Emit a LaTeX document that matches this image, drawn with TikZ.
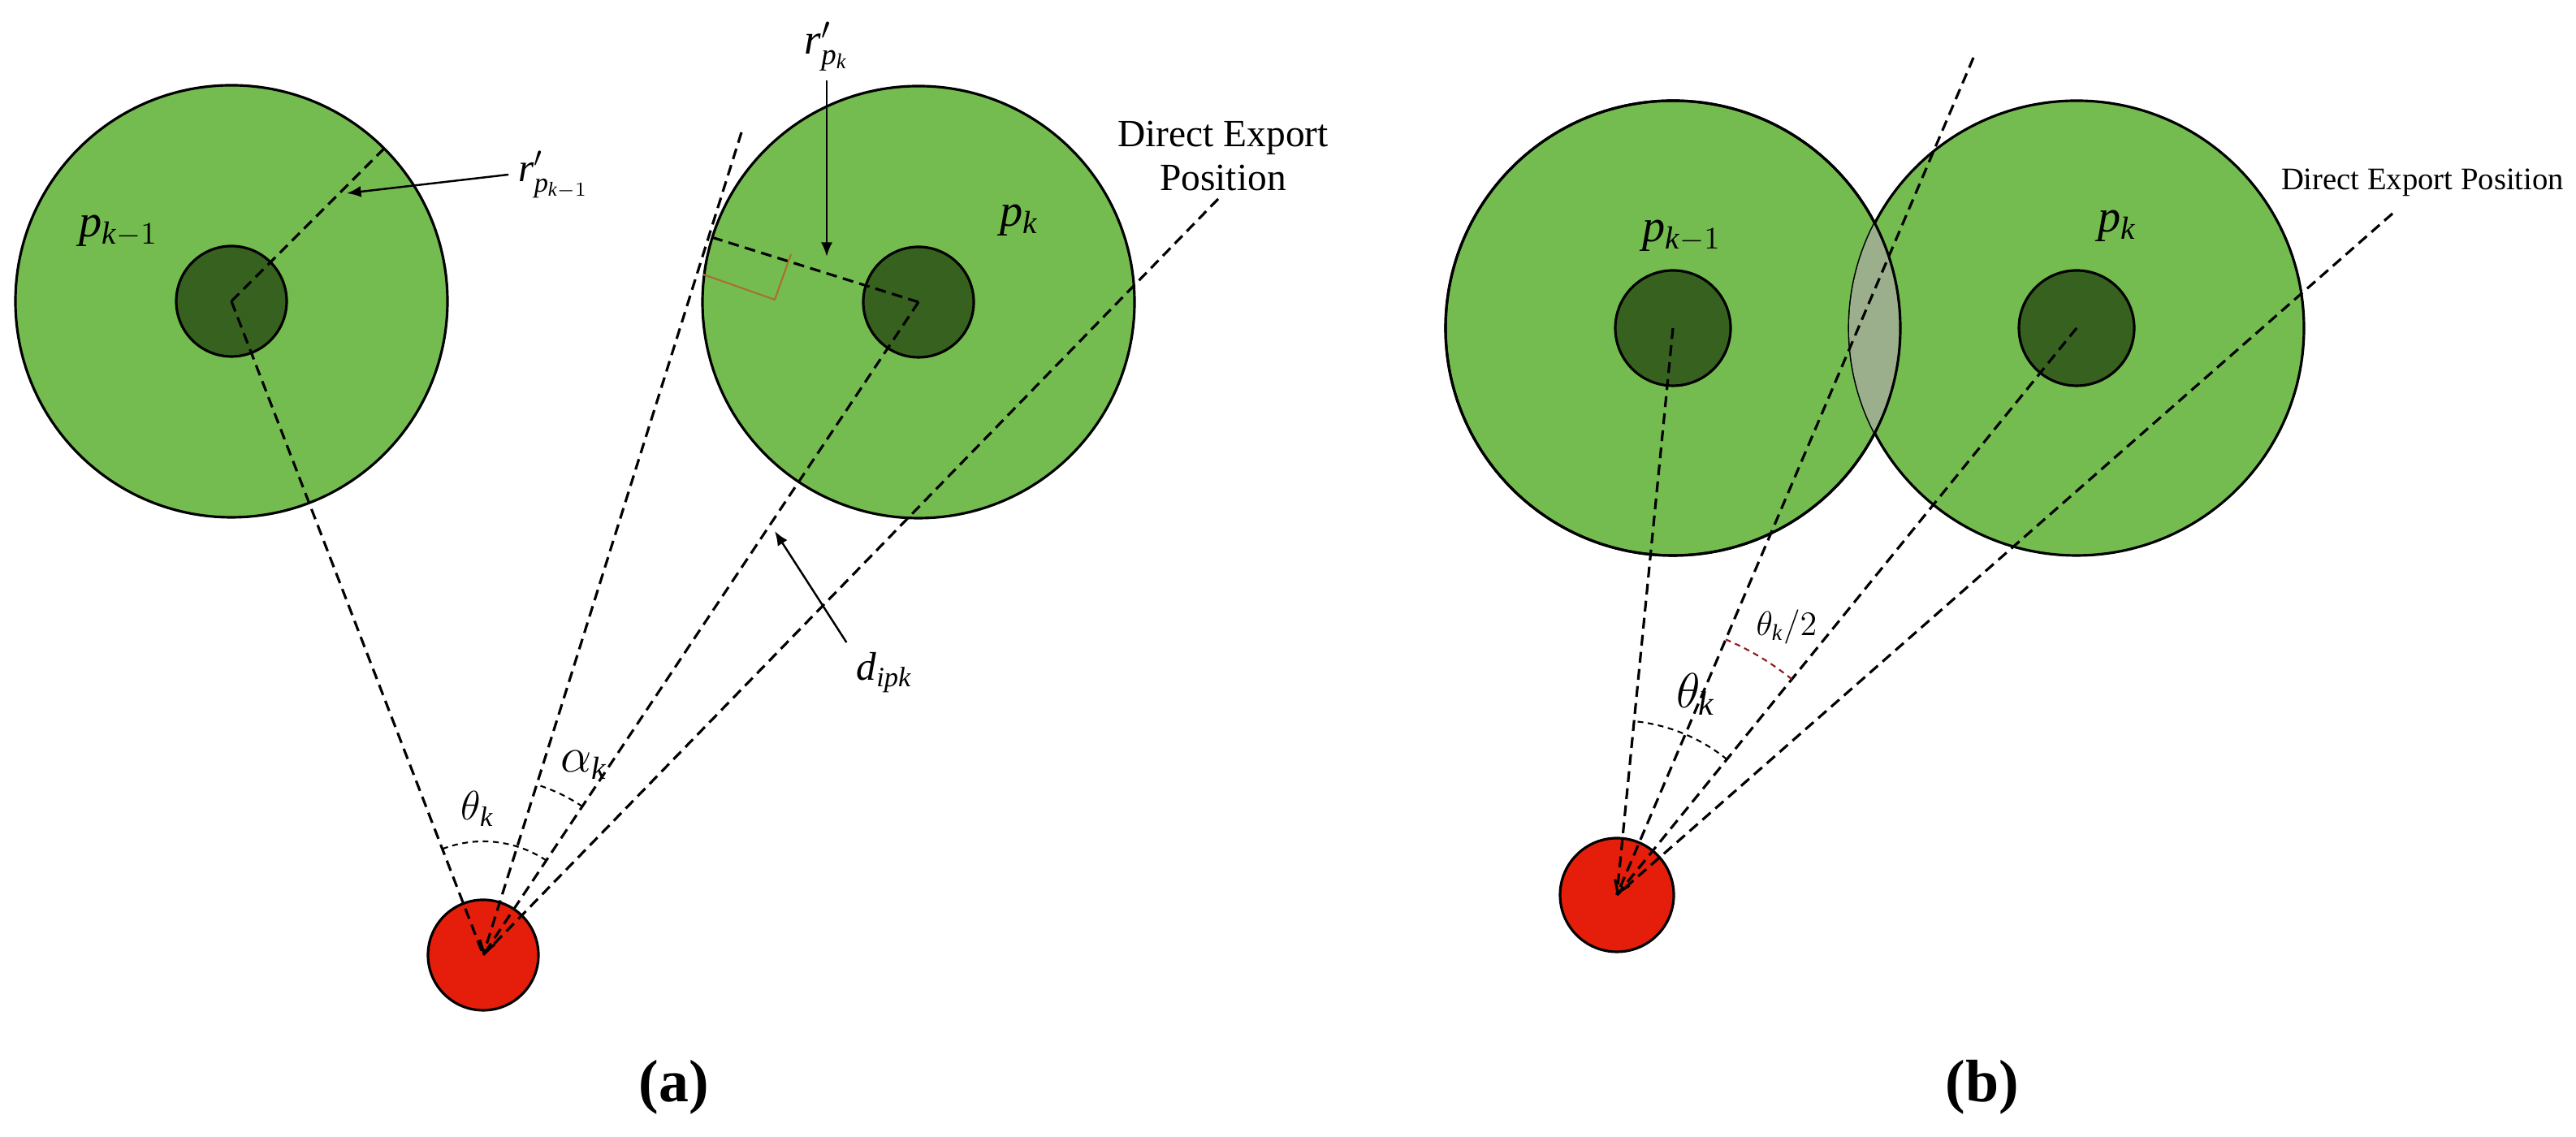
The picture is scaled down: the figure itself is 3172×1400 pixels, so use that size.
\documentclass[tikz,border=0pt]{standalone}
\usepackage{amsmath}
\usepackage{fontspec}
\setmainfont{Liberation Serif}
\usetikzlibrary{arrows.meta,calc}
\definecolor{leaf}{HTML}{74BC50}
\definecolor{darkleaf}{HTML}{37611F}
\definecolor{hot}{HTML}{E41E0A}
\definecolor{lap}{HTML}{9BAF8C}
\definecolor{rightmark}{HTML}{A8702E}
\definecolor{halfarc}{HTML}{8B1A1A}
\newcommand{\ti}[1]{\mathit{#1}}

\begin{document}
\begin{tikzpicture}[x=0.1mm,y=0.1mm,>=Latex,
    disk/.style={circle,draw,line width=0.9pt,fill=leaf,inner sep=0pt},
    kernel/.style={circle,draw,line width=0.9pt,fill=darkleaf,inner sep=0pt,minimum size=13.6mm},
    seed/.style={circle,draw,line width=0.9pt,fill=hot,inner sep=0pt,minimum size=13.6mm},
    ray/.style={line width=0.9pt,dash pattern=on 3.8pt off 2.2pt},
    barb/.style={-{Straight Barb[length=4pt,width=5.5pt]}},
    anglearc/.style={line width=0.6pt,dash pattern=on 2pt off 1.6pt},
    pointer/.style={line width=0.7pt,-{Latex[length=5pt,width=4pt]}},
    tag/.style={font=\fontsize{16}{18}\selectfont},
    sym/.style={font=\fontsize{14}{16}\selectfont},
    caption/.style={font=\fontsize{21}{24}\selectfont\bfseries}]
  \useasboundingbox (0,0) rectangle (3172,1400);

  % (a) separated circles
  \node[disk,minimum size=53.2mm] (pa) at (285,1029) {};
  \node[disk,minimum size=53.2mm] (qa) at (1131,1028) {};
  \node[kernel] (pak) at (pa) {};
  \node[kernel] (qak) at (qa) {};
  \node[seed] (sa) at (595,224) {};
  \node[tag] (lpa) at (146,1116) {$\ti{p}_{\ti{k}-1}$};
  \node[tag] (lqa) at (1255,1129) {$\ti{p}_{\ti{k}}$};
  \node[font=\fontsize{13.5}{15.5}\selectfont,align=center] (expa) at (1506,1208) {Direct Export\\Position};

  \coordinate (ta) at (913,1237);
  \coordinate (ea) at (1500,1155);
  \coordinate (fa) at ($(sa.center)!(qa.center)!(ta)$);
  \coordinate (ra) at ($(pa.center)+(45:266)$);

  \draw[ray] (pa.center) -- (ra);
  \draw[ray] (pa.center) -- (sa.center);
  \draw[ray,barb] (ta) -- (sa.center);
  \draw[ray] (qa.center) -- (sa.center);
  \draw[ray] (qa.center) -- (fa);
  \draw[ray] (ea) -- (sa.center);
  \draw[rightmark,line width=0.6pt] (866,1062) -- (954,1031) -- (974,1087);

  \draw[anglearc] ($(sa.center)+(56.3:140)$) arc[start angle=56.3,end angle=111.1,radius=140];
  \draw[anglearc] ($(sa.center)+(56.3:220)$) arc[start angle=56.3,end angle=72.6,radius=220];
  \node[sym] (tha) at (588,404) {$\theta_{\ti{k}}$};
  \node[font=\fontsize{16}{18}\selectfont] (ala) at (719,458) {$\alpha_{\ti{k}}$};

  \node[sym] (rpa) at (682,1185) {$\ti{r}'_{\ti{p}_{\ti{k}-1}}$};
  \coordinate (rpatip) at (427,1162);
  \draw[pointer] (rpa.west) -- (rpatip);
  \node[font=\fontsize{15}{17}\selectfont] (rqa) at (1018,1343) {$\ti{r}'_{\ti{p}_{\ti{k}}}$};
  \coordinate (rqatip) at (1018,1084);
  \draw[pointer] (rqa.south) -- (rqatip);
  \node[sym] (da) at (1089,572) {$\ti{d}_{\ti{ipk}}$};
  \coordinate (datip) at (954,746);
  \draw[pointer] (da.north west) -- (datip);

  % (b) overlapping circles
  \node[disk,minimum size=56mm] (pb) at (2060,996) {};
  \node[disk,minimum size=56mm] (qb) at (2557,996) {};
  \begin{scope}
    \clip (pb.center) circle[radius=280];
    \fill[lap] (qb.center) circle[radius=280];
  \end{scope}
  \draw[line width=0.9pt] (pb.center) circle[radius=280];
  \node[kernel,minimum size=14.2mm] (pbk) at (pb) {};
  \node[kernel,minimum size=14.2mm] (qbk) at (qb) {};
  \node[seed,minimum size=14mm] (sb) at (1991,298) {};
  \node[tag] (lpb) at (2071,1110) {$\ti{p}_{\ti{k}-1}$};
  \node[tag] (lqb) at (2607,1122) {$\ti{p}_{\ti{k}}$};
  \node[font=\fontsize{11}{13}\selectfont] (expb) at (2983,1175) {Direct Export Position};

  \coordinate (tb) at (2430,1329);
  \coordinate (eb) at (2946,1137);
  \draw[ray] (pb.center) -- (sb.center);
  \draw[ray,barb] (tb) -- (sb.center);
  \draw[ray] (qb.center) -- (sb.center);
  \draw[ray] (eb) -- (sb.center);

  \draw[anglearc] ($(sb.center)+(50.96:215)$) arc[start angle=50.96,end angle=84.35,radius=215];
  \draw[anglearc,halfarc] ($(sb.center)+(50.96:342)$) arc[start angle=50.96,end angle=66.93,radius=342];
  \node[font=\fontsize{17}{19}\selectfont] (thb) at (2088,545) {$\theta_{\ti{k}}$};
  \node[font=\fontsize{12}{14}\selectfont] (thhb) at (2200,628) {$\theta_{\ti{k}}/2$};

  \node[caption] (capa) at (830,61) {(a)};
  \node[caption] (capb) at (2441,61) {(b)};
\end{tikzpicture}
\end{document}
